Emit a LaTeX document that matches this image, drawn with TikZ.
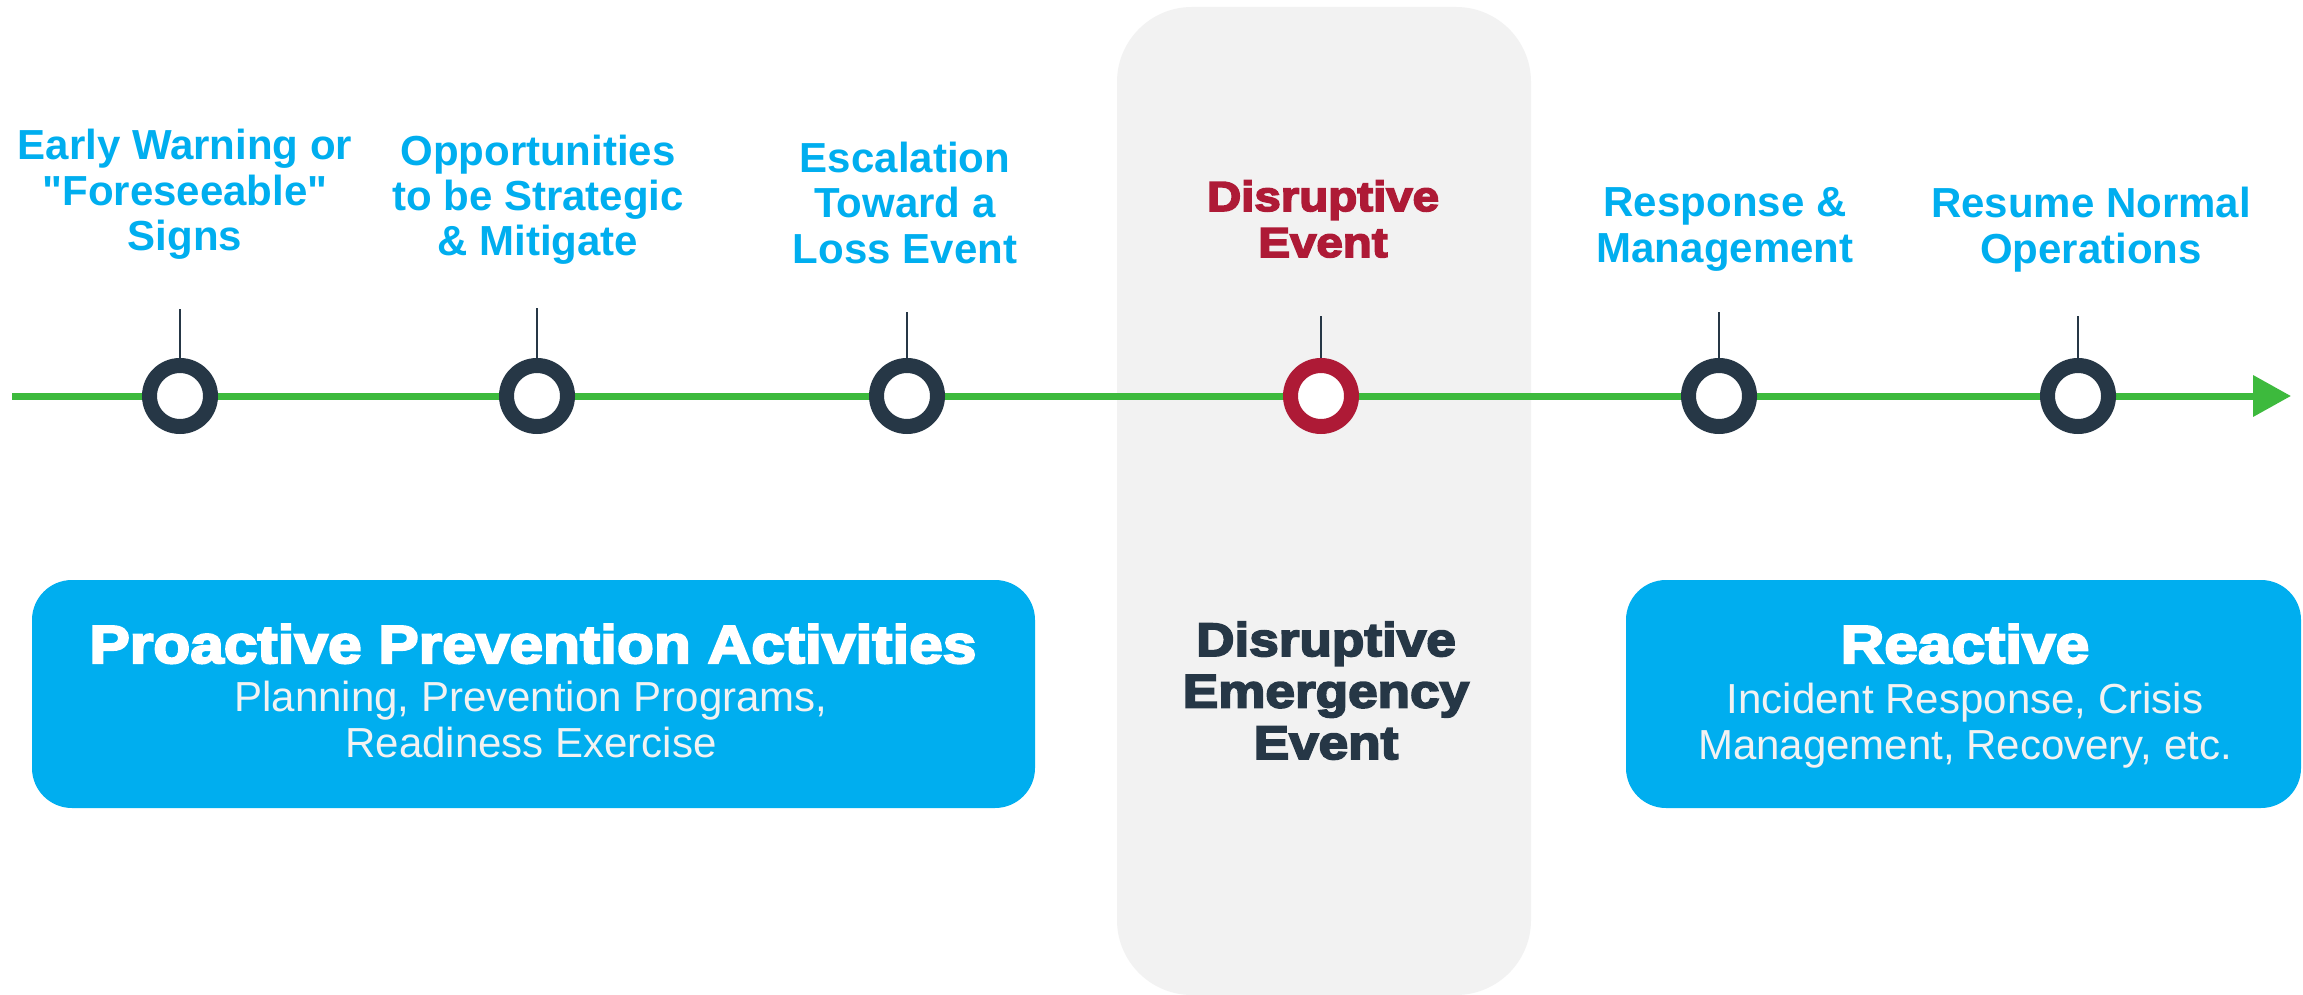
\documentclass[tikz,border=0pt]{standalone}
\usepackage{fontspec}
\setmainfont{Liberation Sans}
\newfontfamily\lbold{Liberation Sans Bold}
\newfontfamily\lblack{Liberation Sans Bold}[FakeBold=4,FakeStretch=1.13]
\usetikzlibrary{arrows.meta}
\definecolor{cblue}{HTML}{00AEEF}
\definecolor{cnavy}{HTML}{263746}
\definecolor{cred}{HTML}{AE1A36}
\definecolor{cgreen}{HTML}{3DBA3D}
\definecolor{cgray}{HTML}{F2F2F2}
\begin{document}
\begin{tikzpicture}[x=1pt,y=-1pt,
  ring/.style={circle,draw=cnavy,line width=15pt,fill=white,minimum size=61pt,inner sep=0pt},
  redring/.style={ring,draw=cred},
  tick/.style={draw=cnavy,line width=2pt},
  toplabel/.style={anchor=base,align=center,text=cblue,font=\lbold\fontsize{42}{45.5}\selectfont,inner sep=0pt},
  redlabel/.style={anchor=base,align=center,text=cred,font=\lblack\fontsize{42}{46}\selectfont,inner sep=0pt},
  midlabel/.style={anchor=base,align=center,text=cnavy,font=\lblack\fontsize{47}{51.5}\selectfont,inner sep=0pt},
  boxhead/.style={anchor=base,align=center,text=white,font=\lblack\fontsize{53.5}{58}\selectfont,inner sep=0pt},
  boxsub/.style={anchor=base,align=center,text=cgray,font=\fontsize{42}{45.5}\selectfont,inner sep=0pt},
  bluebox/.style={fill=cblue,rounded corners=40pt,inner sep=0pt},
  panelbox/.style={fill=cgray,rounded corners=75pt,inner sep=0pt},
  timeline/.style={draw=cgreen,line width=7pt,-{Triangle[length=38pt,width=40pt]}}
]
\path[use as bounding box,fill=white] (0,0) rectangle (2303,995);

% gray panel
\node[panelbox,minimum width=414pt,minimum height=988pt] (panel) at (1324,501) {};

% timeline
\coordinate (tstart) at (12,396);
\coordinate (tend) at (2291,396);
\draw[timeline] (tstart) -- (tend);

% rings
\node[ring] (c1) at (180,396) {};
\node[ring] (c2) at (537,396) {};
\node[ring] (c3) at (907,396) {};
\node[redring] (c4) at (1321,396) {};
\node[ring] (c5) at (1719,396) {};
\node[ring] (c6) at (2078,396) {};

% ticks
\coordinate (t1) at (180,309);
\coordinate (t2) at (537,308);
\coordinate (t3) at (907,312);
\coordinate (t4) at (1321,316);
\coordinate (t5) at (1719,312);
\coordinate (t6) at (2078,316);
\foreach \i in {1,...,6}{\draw[tick] (t\i) -- (c\i.north);}

% top labels (anchor = baseline of last line)
\node[toplabel] (l1) at (185,251) {Early Warning or\\"Foreseeable"\\Signs};
\node[toplabel] (l2) at (538,256) {Opportunities\\to be Strategic\\\& Mitigate};
\node[toplabel] (l3) at (905,263) {Escalation\\Toward a\\Loss Event};
\node[redlabel] (l4) at (1323,257) {Disruptive\\Event};
\node[toplabel] (l5) at (1725,262) {Response \&\\Management};
\node[toplabel] (l6) at (2091,263) {Resume Normal\\Operations};

% bottom boxes
\node[bluebox,minimum width=1003pt,minimum height=228pt] (pbox) at (533.5,694) {};
\node[boxhead] (ph) at (533,663) {Proactive Prevention Activities};
\node[boxsub] (ps) at (531,757) {Planning, Prevention Programs,\\Readiness Exercise};

\node[bluebox,minimum width=675pt,minimum height=228pt] (rbox) at (1963.5,694) {};
\node[boxhead] (rh) at (1965,663) {Reactive};
\node[boxsub] (rs) at (1965,759) {Incident Response, Crisis\\Management, Recovery, etc.};

\node[midlabel] (mid) at (1326,759) {Disruptive\\Emergency\\Event};
\end{tikzpicture}
\end{document}
